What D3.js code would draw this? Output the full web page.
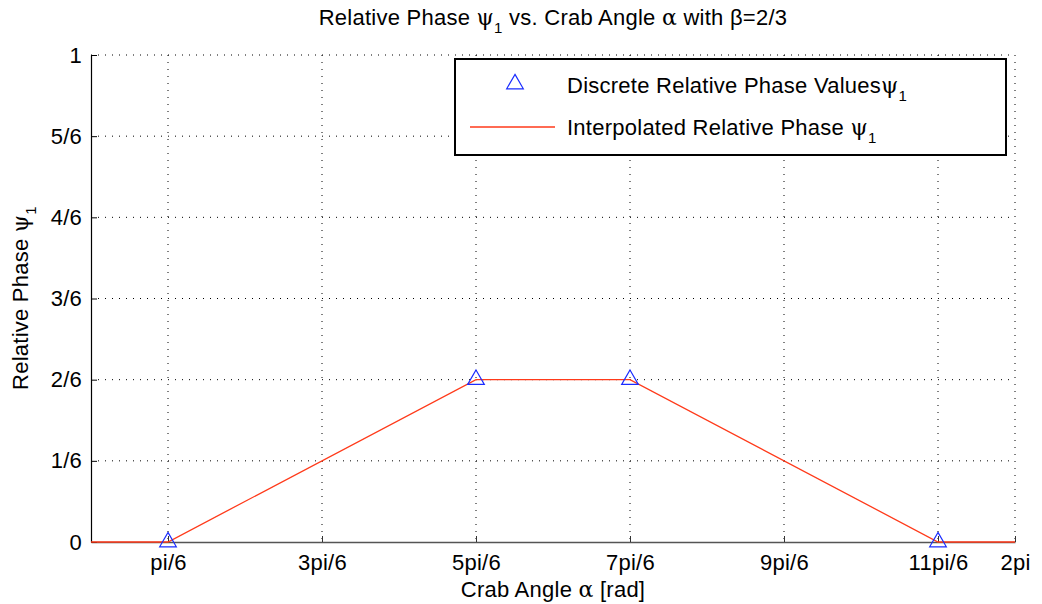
<!DOCTYPE html>
<html>
<head>
<meta charset="utf-8">
<script src="https://cdn.jsdelivr.net/npm/d3@7"></script>
<style>
  body { margin: 0; background: #fff; }
  text { font-family: "Liberation Sans", Arial, sans-serif; fill: #000; letter-spacing: 0.25px; }
</style>
</head>
<body>
<div id="chart"></div>
<script>
// Data (angles in units of pi/6)
const discreteX = [1, 5, 7, 11];
const discreteY = [0, 2 / 6, 2 / 6, 0];
const interpX = [0, 1, 5, 7, 11, 12];
const interpY = [0, 0, 2 / 6, 2 / 6, 0, 0];
const xTicks = [1, 3, 5, 7, 9, 11, 12];
const xTickLabels = ["pi/6", "3pi/6", "5pi/6", "7pi/6", "9pi/6", "11pi/6", "2pi"];
const yTicks = [0, 1 / 6, 2 / 6, 3 / 6, 4 / 6, 5 / 6, 1];
const yTickLabels = ["0", "1/6", "2/6", "3/6", "4/6", "5/6", "1"];

// Set dimensions
const W = 1042, H = 604;
const margin = { top: 55, right: 27, bottom: 62, left: 91 };
const width = W - margin.left - margin.right;
const height = H - margin.top - margin.bottom;
const FS = "22px";

const svgRoot = d3.select("#chart").append("svg")
    .attr("width", W)
    .attr("height", H);

const svg = svgRoot.append("g")
    .attr("transform", `translate(${margin.left},${margin.top})`);

// Scales
const x = d3.scaleLinear().domain([0, 12]).range([0, width]);
const y = d3.scaleLinear().domain([0, 1]).range([height, 0]);

// Grid
const dots = "1,6";
svg.append("g").selectAll("line")
    .data(xTicks)
    .enter().append("line")
    .attr("x1", d => x(d)).attr("x2", d => x(d))
    .attr("y1", 0).attr("y2", height)
    .attr("stroke", "#000").attr("stroke-width", 1)
    .attr("stroke-dasharray", dots);
svg.append("g").selectAll("line")
    .data(yTicks.slice(1))
    .enter().append("line")
    .attr("x1", 0).attr("x2", width)
    .attr("y1", d => y(d)).attr("y2", d => y(d))
    .attr("stroke", "#000").attr("stroke-width", 1)
    .attr("stroke-dasharray", dots);

// X axis
const xAxis = svg.append("g")
    .attr("transform", `translate(0,${height})`)
    .call(d3.axisBottom(x).tickValues(xTicks)
        .tickFormat((d, i) => xTickLabels[i])
        .tickSizeInner(-6).tickSizeOuter(0).tickPadding(12));
xAxis.select(".domain").attr("stroke", "#555").attr("stroke-width", 1.5);
xAxis.selectAll(".tick line").attr("stroke", "#333");
xAxis.selectAll("text").style("font-size", FS).style("font-family", "Liberation Sans, Arial, sans-serif");

// Y axis
const yAxis = svg.append("g")
    .call(d3.axisLeft(y).tickValues(yTicks)
        .tickFormat((d, i) => yTickLabels[i])
        .tickSizeInner(-6).tickSizeOuter(0).tickPadding(9));
yAxis.select(".domain").attr("stroke", "#000").attr("stroke-width", 1.2);
yAxis.selectAll(".tick line").attr("stroke", "#000");
yAxis.selectAll("text").style("font-size", FS).style("font-family", "Liberation Sans, Arial, sans-serif");

// Interpolated line
const line = d3.line().x(d => x(d[0])).y(d => y(d[1]));
svg.append("path")
    .datum(interpX.map((v, i) => [v, interpY[i]]))
    .attr("fill", "none")
    .attr("stroke", "#ff3a1a")
    .attr("stroke-width", 1.3)
    .attr("d", line);

// Discrete markers
const tri = d3.symbol().type(d3.symbolTriangle).size(120);
svg.selectAll(".marker")
    .data(discreteX.map((v, i) => [v, discreteY[i]]))
    .enter().append("path")
    .attr("class", "marker")
    .attr("transform", d => `translate(${x(d[0])},${y(d[1])})`)
    .attr("d", tri)
    .attr("fill", "none")
    .attr("stroke", "#1a2cff")
    .attr("stroke-width", 1.2);

// Legend
const leg = svgRoot.append("g");
leg.append("rect")
    .attr("x", 455).attr("y", 59)
    .attr("width", 551).attr("height", 96)
    .attr("fill", "#fff").attr("stroke", "#000").attr("stroke-width", 2);
leg.append("path")
    .attr("transform", "translate(515,84)")
    .attr("d", tri)
    .attr("fill", "none").attr("stroke", "#1a2cff").attr("stroke-width", 1.2);
leg.append("line")
    .attr("x1", 470).attr("x2", 555).attr("y1", 127).attr("y2", 127)
    .attr("stroke", "#ff3a1a").attr("stroke-width", 1.3);

function psiText(sel, xPos, yPos, label) {
    const t = sel.append("text").attr("x", xPos).attr("y", yPos).style("font-size", FS);
    t.append("tspan").text(label);
    t.append("tspan").text("\u03c8").style("font-family", "DejaVu Serif, serif");
    t.append("tspan").attr("dy", 8).style("font-size", "15px").text("1");
    return t;
}
psiText(leg, 567, 93, "Discrete Relative Phase Values");
psiText(leg, 567, 135, "Interpolated Relative Phase ");

// Title
const title = svgRoot.append("text")
    .attr("x", 553).attr("y", 25)
    .attr("text-anchor", "middle")
    .style("font-size", FS);
title.append("tspan").text("Relative Phase ");
title.append("tspan").text("\u03c8").style("font-family", "DejaVu Serif, serif");
title.append("tspan").attr("dy", 8).style("font-size", "15px").text("1");
title.append("tspan").attr("dy", -8).text(" vs. Crab Angle ");
title.append("tspan").text("\u03b1").style("font-family", "DejaVu Serif, serif");
title.append("tspan").text(" with \u03b2=2/3");

// X-axis label
const xl = svgRoot.append("text")
    .attr("x", 553).attr("y", 597)
    .attr("text-anchor", "middle")
    .style("font-size", FS);
xl.append("tspan").text("Crab Angle ");
xl.append("tspan").text("\u03b1").style("font-family", "DejaVu Serif, serif");
xl.append("tspan").text(" [rad]");

// Y-axis label
const yl = svgRoot.append("text")
    .attr("transform", "translate(28,298) rotate(-90)")
    .attr("text-anchor", "middle")
    .style("font-size", FS);
yl.append("tspan").text("Relative Phase ");
yl.append("tspan").text("\u03c8").style("font-family", "DejaVu Serif, serif");
yl.append("tspan").attr("dy", 8).style("font-size", "15px").text("1");
</script>
</body>
</html>
